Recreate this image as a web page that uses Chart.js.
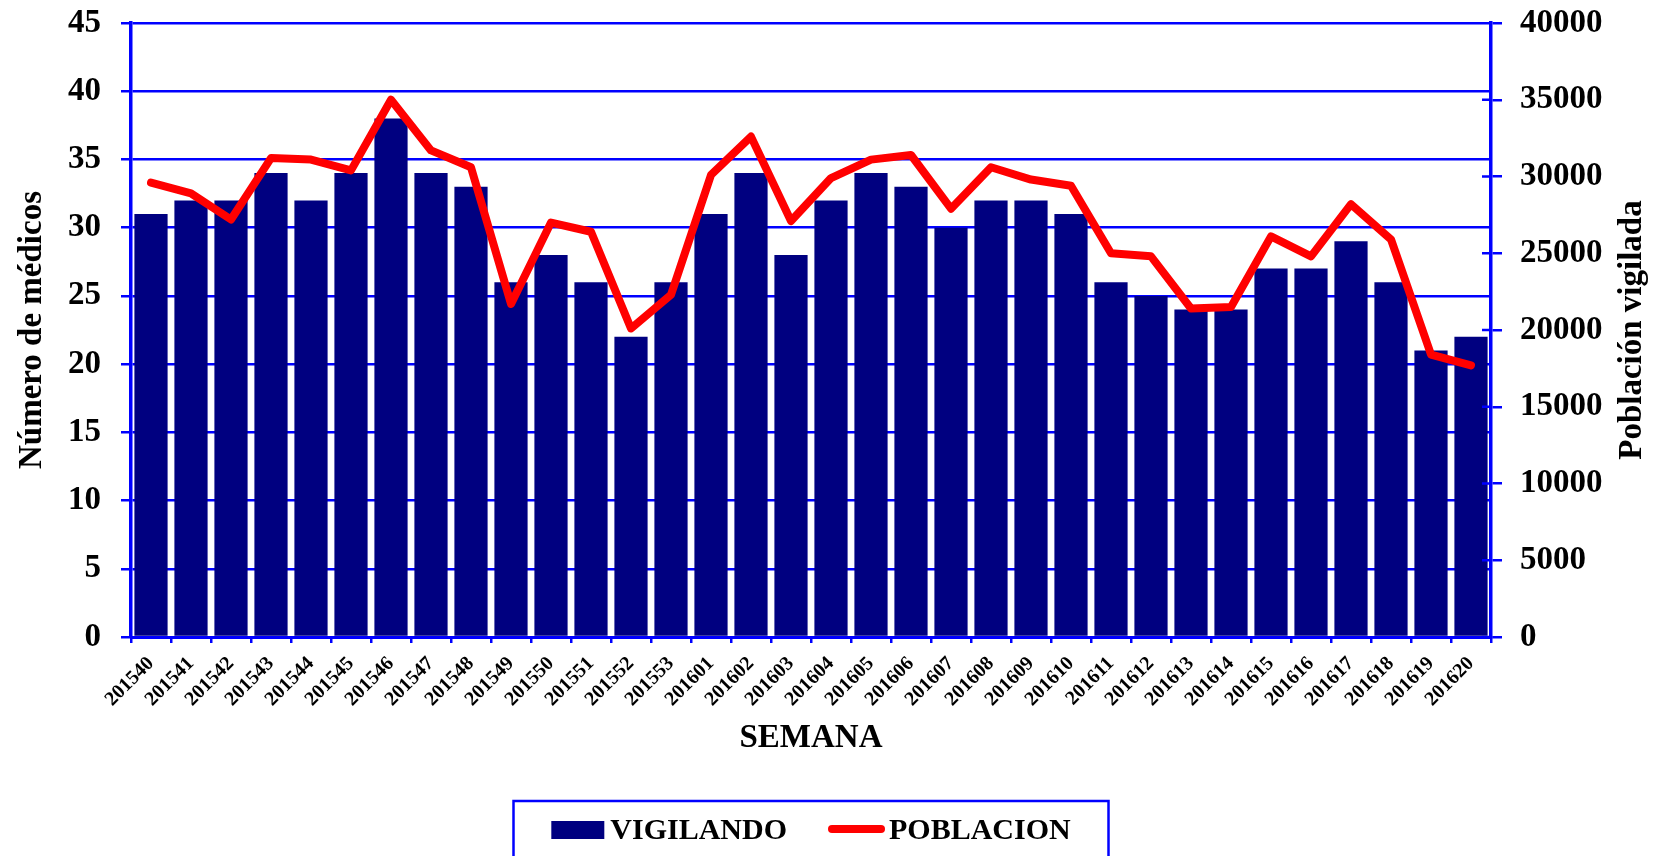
<!DOCTYPE html>
<html>
<head>
<meta charset="utf-8">
<script src="https://cdn.jsdelivr.net/npm/chart.js@4.4.0/dist/chart.umd.min.js"></script>
<style>
  html, body { margin: 0; padding: 0; background: #fff; }
  #wrap { width: 1656px; height: 856px; }
</style>
</head>
<body>
<div id="wrap"><canvas id="grafica" width="1656" height="856"></canvas></div>
<script>
// Semanas epidemiológicas (eje X)
const semanas = ['201540', '201541', '201542', '201543', '201544', '201545', '201546', '201547',
  '201548', '201549', '201550', '201551', '201552', '201553', '201601', '201602', '201603',
  '201604', '201605', '201606', '201607', '201608', '201609', '201610', '201611', '201612',
  '201613', '201614', '201615', '201616', '201617', '201618', '201619', '201620'];

// Número de médicos vigilando (barras, eje izquierdo)
const vigilando = [31, 32, 32, 34, 32, 34, 38, 34, 33, 26, 28, 26, 22, 26, 31, 34, 28,
  32, 34, 33, 30, 32, 32, 31, 26, 25, 24, 24, 27, 27, 29, 26, 21, 22];

// Población vigilada (línea, eje derecho)
const poblacion = [29600, 28900, 27200, 31200, 31100, 30400, 35000, 31700, 30600, 21700,
  27000, 26400, 20100, 22300, 30100, 32600, 27100, 29900, 31100, 31400, 27900, 30600,
  29800, 29400, 25000, 24800, 21400, 21500, 26100, 24800, 28200, 25900, 18400, 17700];

// Rangos de los ejes
const ejeMedicos = { min: 0, max: 45, paso: 5 };
const ejePoblacion = { min: 0, max: 40000, paso: 5000 };

const AZUL = '#0000FF';
const MARINO = '#000080';
const ROJO = '#FF0000';
const FUENTE = '"Liberation Serif", "Times New Roman", serif';

// Título del eje derecho (leído de abajo hacia arriba), marcas interiores y leyenda
const extrasPlugin = {
  id: 'extras',
  afterDraw(chart) {
    const ctx = chart.ctx;
    const area = chart.chartArea;
    const y1 = chart.scales.y1;
    ctx.save();
    // marcas del eje derecho hacia dentro
    ctx.strokeStyle = AZUL;
    ctx.lineWidth = 2.5;
    y1.ticks.forEach(t => {
      if (t.value === ejePoblacion.max) return;
      const py = y1.getPixelForValue(t.value);
      ctx.beginPath();
      ctx.moveTo(area.right - 9, py);
      ctx.lineTo(area.right, py);
      ctx.stroke();
    });
    // título derecho
    ctx.fillStyle = '#000';
    ctx.font = 'bold 33px ' + FUENTE;
    ctx.textAlign = 'center';
    ctx.textBaseline = 'middle';
    ctx.translate(1632, (area.top + area.bottom) / 2);
    ctx.rotate(-Math.PI / 2);
    ctx.fillText('Población vigilada', 0, 0);
    ctx.restore();

    // leyenda con recuadro
    ctx.save();
    const cx = (area.left + area.right) / 2;
    const boxW = 595;
    ctx.strokeStyle = AZUL;
    ctx.lineWidth = 2.5;
    ctx.strokeRect(cx - boxW / 2, 801, boxW, 90);
    ctx.font = 'bold 30px ' + FUENTE;
    ctx.textBaseline = 'alphabetic';
    ctx.textAlign = 'left';
    const t1 = 'VIGILANDO', t2 = 'POBLACION';
    const w1 = ctx.measureText(t1).width, w2 = ctx.measureText(t2).width;
    const total = 53 + 6 + w1 + 41 + 57 + 4 + w2;
    let x = cx - total / 2;
    ctx.fillStyle = MARINO;
    ctx.fillRect(x, 821, 53, 18);
    x += 59;
    ctx.fillStyle = '#000';
    ctx.fillText(t1, x, 839);
    x += w1 + 41;
    ctx.strokeStyle = ROJO;
    ctx.lineWidth = 8;
    ctx.lineCap = 'round';
    ctx.beginPath();
    ctx.moveTo(x + 4, 829);
    ctx.lineTo(x + 53, 829);
    ctx.stroke();
    x += 61;
    ctx.fillText(t2, x, 839);
    ctx.restore();
  }
};

// el margen superior lo fija layout.padding, no el relleno de las etiquetas
function sinRelleno(s) {
  s.paddingTop = 0;
  s.paddingBottom = 0;
}

new Chart(document.getElementById('grafica').getContext('2d'), {
  type: 'bar',
  data: {
    labels: semanas,
    datasets: [
      {
        type: 'line',
        label: 'POBLACION',
        data: poblacion,
        yAxisID: 'y1',
        borderColor: ROJO,
        borderWidth: 8,
        borderJoinStyle: 'round',
        borderCapStyle: 'round',
        pointRadius: 0,
        tension: 0,
        fill: false,
        order: 1
      },
      {
        type: 'bar',
        label: 'VIGILANDO',
        data: vigilando,
        yAxisID: 'y',
        backgroundColor: MARINO,
        borderWidth: 0,
        barPercentage: 0.83,
        categoryPercentage: 1,
        order: 2
      }
    ]
  },
  options: {
    responsive: false,
    animation: false,
    devicePixelRatio: 1,
    layout: { padding: { top: 23, left: 0, right: 0, bottom: 96 } },
    plugins: {
      legend: { display: false },
      tooltip: { enabled: false }
    },
    scales: {
      x: {
        offset: true,
        grid: { drawOnChartArea: false, color: AZUL, lineWidth: 2.5, tickLength: 6, offset: true },
        border: { color: AZUL, width: 3 },
        ticks: {
          autoSkip: false, minRotation: 45, maxRotation: 45, padding: 9,
          color: '#000', font: { family: FUENTE, size: 20, weight: 'bold' }
        },
        title: {
          display: true, text: 'SEMANA', color: '#000',
          font: { family: FUENTE, size: 33, weight: 'bold' },
          padding: { top: 0, bottom: 2 }
        },
        afterFit(s) { s.height = 123; }
      },
      y: {
        position: 'left',
        min: ejeMedicos.min, max: ejeMedicos.max,
        grid: { color: AZUL, lineWidth: 2.5, tickLength: 10 },
        border: { color: AZUL, width: 3.5 },
        ticks: {
          stepSize: ejeMedicos.paso, padding: 20, color: '#000',
          font: { family: FUENTE, size: 33, weight: 'bold' }
        },
        title: {
          display: true, text: 'Número de médicos', color: '#000',
          font: { family: FUENTE, size: 33, weight: 'bold' },
          padding: { top: 13, bottom: 0 }
        },
        afterFit(s) { s.width = 131; sinRelleno(s); }
      },
      y1: {
        position: 'right',
        min: ejePoblacion.min, max: ejePoblacion.max,
        grid: { drawOnChartArea: false, color: AZUL, lineWidth: 2.5, tickLength: 11 },
        border: { color: AZUL, width: 3.5 },
        ticks: {
          stepSize: ejePoblacion.paso, padding: 18, color: '#000',
          font: { family: FUENTE, size: 33, weight: 'bold' },
          callback: v => String(v)
        },
        afterFit(s) { s.width = 165; sinRelleno(s); }
      }
    }
  },
  plugins: [extrasPlugin]
});
</script>
</body>
</html>
